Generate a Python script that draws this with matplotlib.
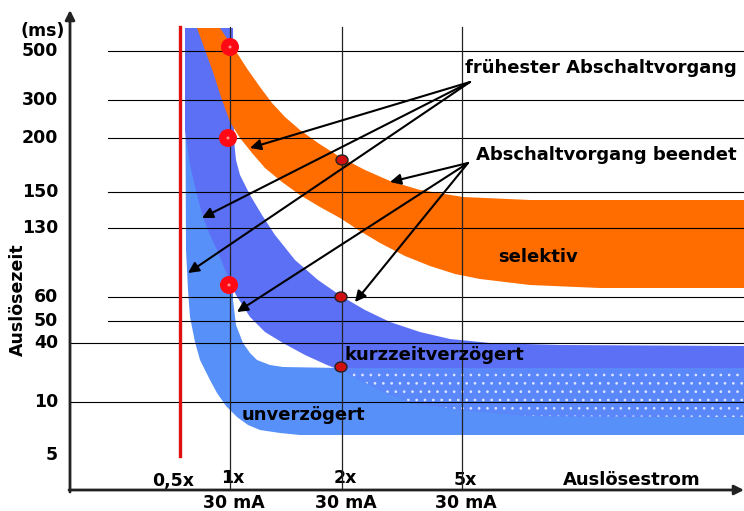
import numpy as np
import matplotlib.pyplot as plt
from matplotlib.patches import Polygon, Circle, Ellipse

# Beschriftung der Zeitachse (ms) und ihre Zeile im Schema
zeit_labels = ["500", "300", "200", "150", "130", "60", "50", "40", "10", "5"]
zeit_rows = [51, 100, 138, 192, 228, 297, 321, 343, 402, 455]

# Strom-Achse: Vielfache von 30 mA
strom_labels = ["0,5x", "1x", "2x", "5x"]
strom_cols = [170, 230, 342, 462]

# Bänder (Schema-Koordinaten), jeweils oberer/rechter und unterer/linker Rand
selektiv_oben = [(220, 28), (228, 40), (237, 53), (248, 70), (260, 87), (272, 103),
                 (285, 117), (300, 130), (318, 143), (340, 157), (365, 170), (390, 181),
                 (420, 190), (463, 197), (530, 200), (744, 200)]
selektiv_unten = [(197, 28), (205, 50), (213, 72), (221, 97), (230, 122), (240, 138),
                  (252, 153), (265, 168), (282, 182), (300, 195), (320, 207), (340, 218),
                  (360, 231), (380, 243), (405, 256), (430, 266), (455, 274), (480, 279),
                  (530, 285), (600, 288), (744, 288)]

kurz_oben = [(233, 28), (234, 140), (236, 160), (240, 175), (250, 195), (262, 215),
             (275, 235), (295, 260), (318, 280), (341, 296), (365, 310), (390, 322),
             (420, 332), (450, 339), (490, 343), (560, 345), (744, 346)]
kurz_unten = [(185, 28), (185, 130), (190, 165), (197, 195), (203, 217), (210, 235),
              (217, 250), (228, 277), (236, 295), (250, 317), (265, 332), (283, 343),
              (305, 355), (327, 365), (345, 372), (380, 390), (413, 403), (463, 410),
              (530, 416), (744, 417)]

unverz_oben = [(233, 28), (233, 300), (236, 325), (243, 343), (250, 353), (257, 360),
               (270, 365), (283, 367), (340, 368), (744, 368)]
unverz_unten = [(185, 28), (186, 250), (188, 290), (190, 317), (195, 342), (200, 360),
                (210, 380), (217, 393), (226, 406), (237, 417), (248, 425), (260, 430),
                (280, 433), (300, 435), (744, 435)]

# Markierungen
grosse_punkte = [(230, 47), (228, 138), (229, 285)]
kleine_punkte = [(342, 160), (341, 297), (341, 367)]

frueh_start = (470, 82)
frueh_ziele = [(250, 148), (202, 218), (188, 273)]
ende_start = (468, 163)
ende_ziele = [(390, 182), (355, 302), (237, 312)]

ORANGE = "#ff6c00"
DUNKELBLAU = "#5c70f5"
HELLBLAU = "#5890fa"


def band(oben, unten):
    return list(oben) + list(reversed(unten))


plt.rcParams["hatch.linewidth"] = 0.7

fig = plt.figure(figsize=(7.44, 5.11), dpi=100)
ax = fig.add_axes([0, 0, 1, 1])
ax.set_xlim(0, 744)
ax.set_ylim(511, 0)
ax.axis("off")

# Bänder
ax.add_patch(Polygon(band(unverz_oben, unverz_unten), closed=True, fc=HELLBLAU, lw=0, zorder=1))
ax.add_patch(Polygon(band(kurz_oben, kurz_unten), closed=True, fc=DUNKELBLAU, lw=0, zorder=2))
# Überlappung rechts unten: gepunktet
ueber = [p for p in kurz_unten if p[0] >= 345]
ueber_oben = [(345, 368), (744, 368)]
ax.add_patch(Polygon(band(ueber_oben, ueber), closed=True, fc="#5a88fa", ec="#dfe6ff",
                     lw=0, hatch="..", zorder=3))
ax.add_patch(Polygon(band(selektiv_oben, selektiv_unten), closed=True, fc=ORANGE, lw=0, zorder=4))

# Raster
for row in zeit_rows[:-1]:
    x0 = 70 if row > 330 else 108
    ax.plot([x0, 744], [row, row], color="black", lw=0.8, zorder=5)
for col in strom_cols[1:]:
    ax.plot([col, col], [27, 490], color="#222222", lw=0.9, zorder=5)

# rote Grenze bei 0,5x
ax.plot([180, 180], [27, 456], color="#e01010", lw=2.4, zorder=6)

# Achsen
ax.annotate("", xy=(70, 10), xytext=(70, 492),
            arrowprops=dict(arrowstyle="-|>", color="#222222", lw=2, mutation_scale=14,
                            shrinkA=0, shrinkB=0), zorder=7)
ax.annotate("", xy=(744, 490), xytext=(69, 490),
            arrowprops=dict(arrowstyle="-|>", color="#222222", lw=2, mutation_scale=14,
                            shrinkA=0, shrinkB=0), zorder=7)

# Punkte
for x, y in grosse_punkte:
    ax.add_patch(Circle((x, y), 9, fc="#ff0a14", ec="none", zorder=8))
    ax.add_patch(Circle((x, y), 1.5, fc="#ff9090", ec="none", zorder=9))
for x, y in kleine_punkte:
    ax.add_patch(Ellipse((x, y), 12, 10, fc="#d01010", ec="#222222", lw=1, zorder=8))

# Pfeile
for start, ziele in [(frueh_start, frueh_ziele), (ende_start, ende_ziele)]:
    for z in ziele:
        ax.annotate("", xy=z, xytext=start,
                    arrowprops=dict(arrowstyle="-|>", color="black", lw=1.5,
                                    mutation_scale=16, shrinkA=0, shrinkB=0), zorder=10)

# Texte
fs = 12.5
ax.text(43, 31, "(ms)", fontsize=fs, fontweight="bold", ha="center", va="center")
for lab, row in zip(zeit_labels, zeit_rows):
    ax.text(58, row, lab, fontsize=fs, fontweight="bold", ha="right", va="center")
ax.text(18, 300, "Auslösezeit", fontsize=fs, fontweight="bold", rotation=90,
        ha="center", va="center")

strom_y = [481, 478, 478, 480]
for lab, col, y in zip(strom_labels, strom_cols, strom_y):
    ax.text(col + 3, y, lab, fontsize=fs, fontweight="bold", ha="center", va="center")
for col in strom_cols[1:]:
    ax.text(col + 4, 503, "30 mA", fontsize=fs, fontweight="bold", ha="center", va="center")
ax.text(632, 480, "Auslösestrom", fontsize=13, fontweight="bold", ha="center", va="center")

ax.text(465, 68, "frühester Abschaltvorgang", fontsize=13, fontweight="bold", va="center", zorder=11)
ax.text(476, 155, "Abschaltvorgang beendet", fontsize=13, fontweight="bold", va="center", zorder=11)
ax.text(498, 257, "selektiv", fontsize=13, fontweight="bold", va="center", zorder=11)
ax.text(345, 355, "kurzzeitverzögert", fontsize=13, fontweight="bold", va="center", zorder=11)
ax.text(242, 415, "unverzögert", fontsize=13, fontweight="bold", va="center", zorder=11)

fig.savefig("out.png", dpi=100)
